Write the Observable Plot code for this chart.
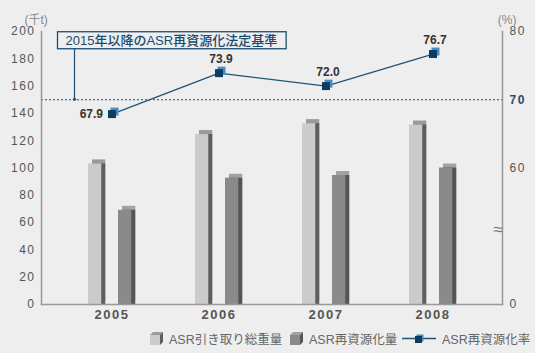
<!DOCTYPE html>
<html><head><meta charset="utf-8">
<script src="https://cdn.jsdelivr.net/npm/d3@7"></script>
<script src="https://cdn.jsdelivr.net/npm/@observablehq/plot@0.6"></script>
<style>
html,body{margin:0;padding:0;background:#eeeeee;}
body{width:535px;height:353px;overflow:hidden;font-family:"Liberation Sans",Arial,"Noto Sans CJK JP",sans-serif;}
#chart svg{display:block;background:#eeeeee;}
#legend{position:relative;height:28px;color:#666;font-size:12.5px;}
.item{position:absolute;top:0;height:26px;display:flex;align-items:center;white-space:nowrap;}
.item svg{margin-right:6px;display:block;}
g[aria-label="y-axis tick label"] text{letter-spacing:1.5px;}
g[aria-label="x-axis tick label"] text{letter-spacing:1.5px;}
</style></head>
<body>
<div id="chart"></div>
<div id="legend"></div>
<script>
// ---- data ----
const years = ["2005", "2006", "2007", "2008"];
const totalWeight = [103, 124.5, 132.5, 131.5];      // ASR引き取り総重量 (千t)
const recycledAmount = [69, 92.5, 94.5, 100];        // ASR再資源化量 (千t)
const recycleRate = [67.9, 73.9, 72.0, 76.7];        // ASR再資源化率 (%)
const leftTicks = [0, 20, 40, 60, 80, 100, 120, 140, 160, 180, 200];
const rightTickLabels = [0, 60, 80];
const legalStandard = 70;
const seriesNames = ["ASR引き取り総重量", "ASR再資源化量", "ASR再資源化率"];
const noteText = "2015年以降のASR再資源化法定基準";
const leftUnit = "(千t)";
const rightUnit = "(%)";

// right axis (%) has a break below 60: 60–80% maps onto 100–200 of the left scale
const yOf = r => r === 0 ? 0 : (r - 60) * 5 + 100;

const rows = years.map((year, i) => ({
  year, total: totalWeight[i], recycled: recycledAmount[i],
  rate: recycleRate[i], rateY: yOf(recycleRate[i]), idx: i
}));

const W = 535, H = 325;
const mL = 41, mR = 33, mT = 31, mB = 21;
const bw = (W - mL - mR - 30) / years.length;

function bar3d(field, front, side, top, il, ir) {
  const ins = {insetLeft: il, insetRight: ir};
  return [
    Plot.barY(rows, {x: "year", y: field, fill: top, ...ins, dx: 4, dy: -4}),
    Plot.barY(rows, {x: "year", y: field, fill: side, ...ins, dx: 4}),
    Plot.barY(rows, {x: "year", y: field, fill: front, ...ins})
  ];
}

const chart = Plot.plot({
  width: W, height: H,
  marginLeft: mL, marginRight: mR, marginTop: mT, marginBottom: mB,
  style: {background: "#eeeeee", color: "#555", fontFamily: '"Liberation Sans", Arial, "Noto Sans CJK JP", sans-serif'},
  x: {type: "band", domain: years, padding: 0, insetLeft: 15, insetRight: 15},
  y: {domain: [0, 200]},
  marks: [
    ...bar3d("total", "#cbcbcb", "#5e5e5e", "#9a9a9a", 30, bw - 44),
    ...bar3d("recycled", "#8a8a8a", "#555555", "#a2a2a2", 60, bw - 74),
    Plot.ruleY([yOf(legalStandard)], {stroke: "#1d4d70", strokeDasharray: "2,2", strokeWidth: 1}),
    Plot.line(rows, {x: "year", y: "rateY", stroke: "#1f5478", strokeWidth: 1.3}),
    Plot.dot(rows, {x: "year", y: "rateY", symbol: "square", r: 4.5, fill: "#4a8cbd", dx: 2.5, dy: -2.5}),
    Plot.dot(rows, {x: "year", y: "rateY", symbol: "square", r: 4.5, fill: "#0b3c62"}),
    Plot.text(rows.filter(d => d.idx === 0), {x: "year", y: "rateY", text: d => d.rate.toFixed(1), textAnchor: "end", dx: -9, fontSize: 12, fontWeight: "bold", fill: "#333"}),
    Plot.text(rows.filter(d => d.idx !== 0), {x: "year", y: "rateY", text: d => d.rate.toFixed(1), dx: 2, dy: -14, fontSize: 12, fontWeight: "bold", fill: "#333"}),
    Plot.frame({anchor: "left", stroke: "#999", strokeWidth: 1.5}),
    Plot.frame({anchor: "right", stroke: "#999", strokeWidth: 1.5}),
    Plot.frame({anchor: "bottom", stroke: "#999", strokeWidth: 1.5}),
    Plot.axisY({anchor: "left", ticks: leftTicks, tickSize: 0, tickPadding: 6, fontSize: 12, fill: "#555", label: null}),
    Plot.axisY({anchor: "right", ticks: rightTickLabels.map(yOf), tickFormat: v => rightTickLabels[rightTickLabels.map(yOf).indexOf(v)], tickSize: 0, tickPadding: 7, fontSize: 12, fill: "#555", label: null}),
    Plot.axisY({anchor: "right", ticks: [yOf(legalStandard)], tickFormat: () => String(legalStandard), tickSize: 0, tickPadding: 7, fontSize: 12, fontWeight: "bold", fill: "#1d4d70", label: null}),
    Plot.axisX({tickSize: 0, tickPadding: 5, fontSize: 13, fontWeight: "bold", fill: "#555", label: null}),
    Plot.text(["≈"], {frameAnchor: "right", y: [55], text: d => d, fontSize: 17, fill: "#777"}),
    Plot.text([leftUnit], {frameAnchor: "top-left", dx: -17, dy: -16, fontSize: 12, fill: "#888"}),
    Plot.text([rightUnit], {frameAnchor: "top-right", dx: 14, dy: -16, fontSize: 12, fill: "#888"}),
    Plot.text([noteText], {frameAnchor: "top-left", dx: 24, dy: 4, textAnchor: "start", fontSize: 13, fontWeight: 500, fill: "#1a4a6e"})
  ]
});
document.getElementById("chart").appendChild(chart);

// box around the note + leader line to the standard line
const svg = d3.select(chart);
const noteNode = svg.selectAll("text").filter(function(){ return this.textContent === noteText; }).node();
const sb = chart.getBoundingClientRect();
const nb = noteNode.getBoundingClientRect();
const bx = nb.left - sb.left - 8, by = nb.top - sb.top - 1;
const bwid = nb.width + 17, bh = nb.height + 2;
svg.append("rect").attr("x", bx).attr("y", by).attr("width", bwid).attr("height", bh)
  .attr("fill", "none").attr("stroke", "#1d4d70").attr("stroke-width", 1.3);
const ys = chart.scale("y");
const lx = bx + 17, ly = ys.apply(yOf(legalStandard));
svg.append("line").attr("x1", lx).attr("x2", lx).attr("y1", by + bh).attr("y2", ly)
  .attr("stroke", "#1d4d70").attr("stroke-width", 1.2);
svg.append("circle").attr("cx", lx).attr("cy", ly).attr("r", 1.6).attr("fill", "#1d4d70");

// legend
const legend = document.getElementById("legend");
const boxIcon = (front, side, top) => `<svg width="13" height="13"><polygon points="0,3 3,0 13,0 10,3" fill="${top}"/><polygon points="10,3 13,0 13,10 10,13" fill="${side}"/><rect x="0" y="3" width="10" height="10" fill="${front}"/></svg>`;
const lineIcon = `<svg width="34" height="13"><line x1="0" y1="6.5" x2="34" y2="6.5" stroke="#1f5478" stroke-width="1.3"/><rect x="14.5" y="2.5" width="7" height="7" fill="#4a8cbd"/><rect x="13" y="4" width="7" height="7" fill="#0b3c62"/></svg>`;
const items = [
  {left: 150, icon: boxIcon("#cbcbcb", "#5e5e5e", "#9a9a9a"), label: seriesNames[0]},
  {left: 290, icon: boxIcon("#8a8a8a", "#555555", "#a2a2a2"), label: seriesNames[1]},
  {left: 402, icon: lineIcon, label: seriesNames[2]}
];
items.forEach(it => {
  const d = document.createElement("div");
  d.className = "item";
  d.style.left = it.left + "px";
  d.innerHTML = it.icon + `<span>${it.label}</span>`;
  legend.appendChild(d);
});
</script>
</body></html>
